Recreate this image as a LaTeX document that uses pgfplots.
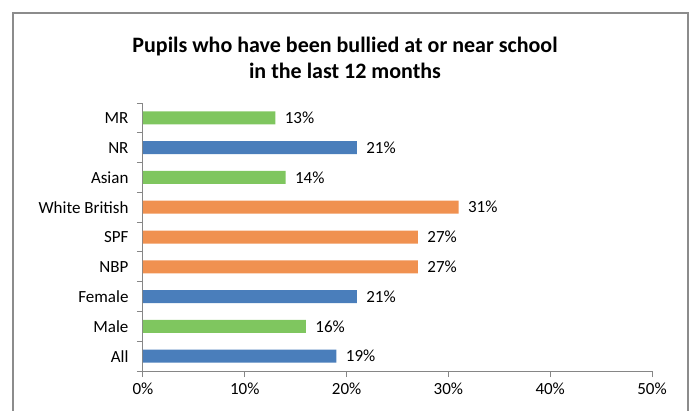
\documentclass[border=0pt]{standalone}
\usepackage{pgfplots}
\pgfplotsset{compat=1.18}
\usetikzlibrary{calc}
\usepackage{fontspec}
\setmainfont{Carlito}

\definecolor{barblue}{RGB}{74,126,187}
\definecolor{bargreen}{RGB}{127,198,95}
\definecolor{barorange}{RGB}{240,145,80}
\definecolor{axisgray}{RGB}{134,134,134}
\definecolor{framegray}{RGB}{140,140,140}

\begin{document}
\begin{tikzpicture}
\begin{axis}[
  name=ax,
  scale only axis, width=509pt, height=268pt,
  xbar, bar width=13pt, bar shift=0pt,
  xmin=0, xmax=50, ymin=-0.5, ymax=8.5,
  axis lines*=left,
  axis line style={axisgray, line width=1pt},
  tick style={axisgray, line width=1pt},
  tick align=outside,
  major tick length=6pt,
  xtick={0,10,...,50},
  xticklabel={\pgfmathprintnumber{\tick}\%},
  ytick={-0.5,0.5,...,8.5},
  y tick label as interval,
  yticklabels={All,Male,Female,NBP,SPF,White British,Asian,NR,MR},
  /pgf/number format/assume math mode=true,
  tick label style={font=\fontsize{17}{18}\selectfont, black},
  xticklabel style={yshift=-2pt},
  yticklabel style={xshift=-5pt},
  nodes near coords={\pgfmathprintnumber{\pgfplotspointmeta}\%},
  nodes near coords style={font=\fontsize{17}{18}\selectfont, black, xshift=6pt},
  clip=false,
]
\addplot[fill=barblue, draw=none] coordinates {(19,0) (21,2) (21,7)};
\addplot[fill=bargreen, draw=none] coordinates {(16,1) (14,6) (13,8)};
\addplot[fill=barorange, draw=none] coordinates {(27,3) (27,4) (31,5)};
\end{axis}
% whole chart placed relative to the axis corner
\begin{scope}[shift={($(ax.south west)+(-143pt,-39pt)$)}]
\draw[framegray, line width=1.6pt] (13pt,-20pt) -- (13pt,397pt) -- (688pt,397pt) -- (688pt,-20pt);
\node[align=center, font=\fontsize{22}{26}\selectfont\bfseries] at (345pt,352pt)
  {Pupils who have been bullied at or near school\\in the last 12 months};
\pgfresetboundingbox
\path[use as bounding box] (0pt,0pt) rectangle (690pt,410pt);
\end{scope}
\end{tikzpicture}
\end{document}
